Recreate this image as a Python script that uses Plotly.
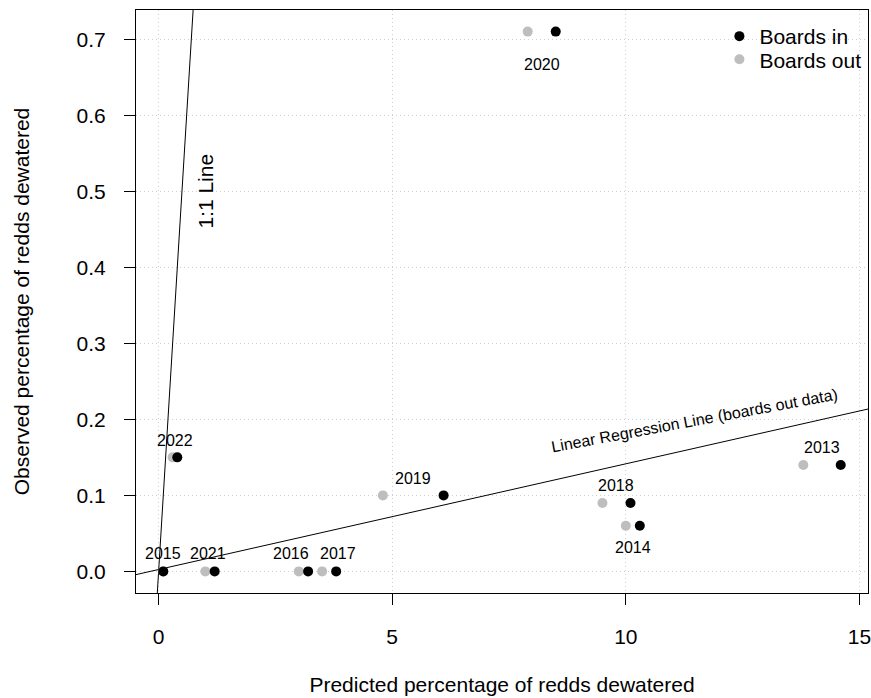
import plotly.graph_objects as go

# ---- data ----
years = ["2013", "2014", "2015", "2016", "2017", "2018", "2019", "2020", "2021", "2022"]
pred_boards_in = [14.6, 10.3, 0.1, 3.2, 3.8, 10.1, 6.1, 8.5, 1.2, 0.4]
pred_boards_out = [13.8, 10.0, 0.1, 3.0, 3.5, 9.5, 4.8, 7.9, 1.0, 0.3]
observed = [0.14, 0.06, 0.0, 0.0, 0.0, 0.09, 0.10, 0.71, 0.0, 0.15]

# regression line (boards out data): y = intercept + slope * x
reg_intercept = 0.0025
reg_slope = 0.0139

# label placement tweaks (x offset in data units, y shift in px)
label_dx = [0, 0, 0, -0.26, 0.19, 0, 0, 0, -0.05, 0]
label_yshift = [17, -22, 18, 18, 18, 17, 17, -33, 18, 17]

x_range = [-0.484, 15.184]
y_range = [-0.0284, 0.7384]

FONT = "Liberation Sans, Arial, Helvetica, sans-serif"

fig = go.Figure()

# 1:1 line
fig.add_trace(go.Scatter(x=[y_range[0], y_range[1]], y=[y_range[0], y_range[1]],
                         mode="lines", line=dict(color="black", width=1),
                         showlegend=False, hoverinfo="skip"))
# regression line
fig.add_trace(go.Scatter(x=x_range,
                         y=[reg_intercept + reg_slope * x for x in x_range],
                         mode="lines", line=dict(color="black", width=1),
                         showlegend=False, hoverinfo="skip"))

fig.add_trace(go.Scatter(x=pred_boards_out, y=observed, mode="markers",
                         marker=dict(color="#BEBEBE", size=10), name="Boards out",
                         text=years, legend="legend2"))
fig.add_trace(go.Scatter(x=pred_boards_in, y=observed, mode="markers",
                         marker=dict(color="black", size=10), name="Boards in",
                         text=years, legend="legend"))

annotations = []
for yr, xi, xo, yv, dx, ys in zip(years, pred_boards_in, pred_boards_out, observed,
                                  label_dx, label_yshift):
    annotations.append(dict(x=(xi + xo) / 2 + dx, y=yv, xref="x", yref="y", text=yr,
                            showarrow=False, yshift=ys,
                            font=dict(family=FONT, size=16, color="black")))

annotations.append(dict(x=1.0, y=0.50, xref="x", yref="y", text="1:1 Line",
                        showarrow=False, textangle=-90,
                        font=dict(family=FONT, size=21, color="black")))
annotations.append(dict(x=11.47, y=0.199, xref="x", yref="y",
                        text="Linear Regression Line (boards out data)",
                        showarrow=False, textangle=-10.5,
                        font=dict(family=FONT, size=16, color="black")))

legend_style = dict(xanchor="left", yanchor="top", bgcolor="rgba(0,0,0,0)",
                    font=dict(size=21))

fig.update_layout(
    width=871, height=698,
    margin=dict(l=136, r=3, t=10, b=105),
    paper_bgcolor="white", plot_bgcolor="white",
    font=dict(family=FONT, size=21, color="black"),
    annotations=annotations,
    legend=dict(x=0.797, y=0.9897, **legend_style),
    legend2=dict(x=0.797, y=0.950, **legend_style),
    xaxis=dict(range=x_range, tickvals=[0, 5, 10, 15], ticktext=["0", "5", "10", "15"],
               automargin=False, ticklabeloverflow="allow",
               showgrid=True, gridcolor="#CFCFCF", griddash="1px,3px", gridwidth=1,
               zeroline=False, showline=True, linecolor="black", linewidth=1, mirror=True,
               ticks="outside", ticklen=11, tickcolor="black", ticklabelstandoff=14,
               title=dict(text="Predicted percentage of redds dewatered",
                          font=dict(size=21), standoff=30)),
    yaxis=dict(range=y_range, tickvals=[0, 0.1, 0.2, 0.3, 0.4, 0.5, 0.6, 0.7],
               ticktext=["0.0", "0.1", "0.2", "0.3", "0.4", "0.5", "0.6", "0.7"],
               automargin=False, ticklabeloverflow="allow",
               showgrid=True, gridcolor="#CFCFCF", griddash="1px,3px", gridwidth=1,
               zeroline=False, showline=True, linecolor="black", linewidth=1, mirror=True,
               ticks="outside", ticklen=11, tickcolor="black", ticklabelstandoff=14,
               title=dict(text="Observed percentage of redds dewatered",
                          font=dict(size=21), standoff=41)),
)

fig.write_html("out.html", config={"displayModeBar": False},
               post_script="document.body.style.margin='0';document.body.style.padding='0';")
